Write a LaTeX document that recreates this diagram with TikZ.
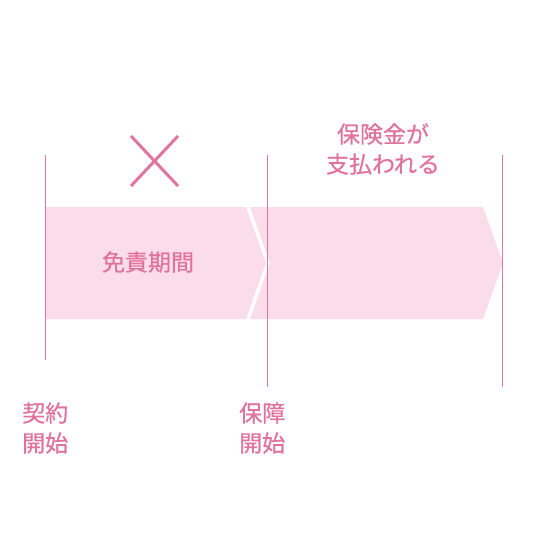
\documentclass[tikz,border=0pt]{standalone}
\usepackage{fontspec}
\setmainfont{Noto Sans CJK JP}[FakeBold=0.6]
\definecolor{bandpink}{HTML}{FADDE8}
\definecolor{linepink}{HTML}{E0769D}
\definecolor{txtpink}{HTML}{E0739C}
\begin{document}
\begin{tikzpicture}[x=1pt,y=-1pt,
  vline/.style={draw=linepink,line width=1pt},
  band/.style={fill=bandpink,draw=none},
  lbl/.style={text=txtpink,font=\fontsize{23}{30}\selectfont,inner sep=0pt},
  cross/.style={draw=linepink,line width=3pt}]
\useasboundingbox (0,0) rectangle (550,551);
\fill[white] (0,0) rectangle (550,551);
% bands
\path[band] (45,207) -- (246,207) -- (266,263) -- (246,319) -- (45,319) -- cycle;
\path[band] (250,207) -- (483,207) -- (503,263) -- (483,319) -- (250,319) -- (270,263) -- cycle;
% vertical lines
\coordinate (l1t) at (45,155); \coordinate (l1b) at (45,360);
\coordinate (l2t) at (267,155); \coordinate (l2b) at (267,387);
\coordinate (l3t) at (502,155); \coordinate (l3b) at (502,387);
\draw[vline] (l1t) -- (l1b);
\draw[vline] (l2t) -- (l2b);
\draw[vline] (l3t) -- (l3b);
% cross
\coordinate (c1) at (131,136); \coordinate (c2) at (178,186);
\coordinate (c3) at (178,136); \coordinate (c4) at (131,186);
\draw[cross] (c1) -- (c2);
\draw[cross] (c3) -- (c4);
% texts
\node[lbl] (menseki) at (148,262) {免責期間};
\node[lbl,align=center] (shiharai) at (383,149) {保険金が\\支払われる};
\node[lbl,align=left,anchor=west] (keiyaku) at (22,428) {契約\\開始};
\node[lbl,align=left,anchor=west] (hosho) at (239,428) {保障\\開始};
\end{tikzpicture}
\end{document}
